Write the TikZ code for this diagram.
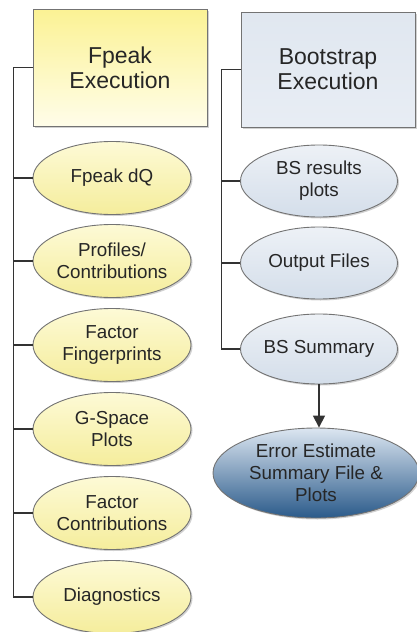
\documentclass[tikz,border=0pt]{standalone}
\usepackage{fontspec}
\setmainfont{Liberation Sans}
\usetikzlibrary{shapes.geometric,shadows,arrows.meta,calc}
\definecolor{linec}{HTML}{333333}
\definecolor{edgec}{HTML}{737373}
\definecolor{ytop}{HTML}{FBF294}
\definecolor{ybot}{HTML}{FFFDE9}
\definecolor{yetop}{HTML}{FDFAD6}
\definecolor{yebot}{HTML}{F5ED9C}
\definecolor{btop}{HTML}{E0E7F0}
\definecolor{bbot}{HTML}{E8EDF4}
\definecolor{betop}{HTML}{EDF1F6}
\definecolor{bebot}{HTML}{D4DEEA}
\definecolor{dtop}{HTML}{DCE6F1}
\definecolor{dmid}{HTML}{87A7CA}
\definecolor{dbot}{HTML}{2A5A8A}
\tikzset{
  shd/.style={drop shadow={shadow xshift=1.5pt,shadow yshift=-1.5pt,fill=black,opacity=0.18}},
  bigbox/.style={rectangle,draw=edgec,line width=0.9pt,shd,align=center,inner sep=0pt,
    font=\fontsize{23}{25}\selectfont,text=black!85},
  ybox/.style={bigbox,top color=ytop,bottom color=ybot},
  bbox/.style={bigbox,top color=btop,bottom color=bbot},
  oval/.style={ellipse,draw=edgec,line width=0.9pt,shd,align=center,inner sep=0pt,
    minimum width=158pt,minimum height=73pt,font=\fontsize{18.8}{22}\selectfont,text=black!85},
  yoval/.style={oval,top color=yetop,bottom color=yebot},
  boval/.style={oval,top color=betop,bottom color=bebot},
  doval/.style={oval,top color=dtop,middle color=dmid,bottom color=dbot,
    minimum width=206pt,minimum height=90pt},
  link/.style={draw=linec,line width=1.5pt},
}
\begin{document}
\begin{tikzpicture}[x=1pt,y=-1pt]
\useasboundingbox (0,0) rectangle (417,632);
% left column
\node[ybox,minimum width=174pt,minimum height=117pt] (fbox) at (120,67.5) {Fpeak\\Execution};
\node[yoval] (dq)   at (112,178) {Fpeak dQ};
\node[yoval] (prof) at (112,261) {Profiles/\\Contributions};
\node[yoval] (fing) at (112,345) {Factor\\Fingerprints};
\node[yoval] (gsp)  at (112,429) {G-Space\\Plots};
\node[yoval] (fcon) at (112,513) {Factor\\Contributions};
\node[yoval] (diag) at (112,597) {Diagnostics};
% right column
\node[bbox,minimum width=174pt,minimum height=115pt] (bbx) at (328,69.5) {Bootstrap\\Execution};
\node[boval,minimum width=157pt,minimum height=72pt] (bsr) at (319,181) {BS results\\plots};
\node[boval,minimum width=157pt,minimum height=72pt] (out) at (319,263) {Output Files};
\node[boval,minimum width=157pt,minimum height=70pt] (bss) at (319,349) {BS Summary};
\node[doval] (err) at (316,473) {Error Estimate\\Summary File \&\\Plots};
% left trunk
\coordinate (lt) at ($(fbox.west)+(-19,0)$);
\draw[link] (fbox.west) -- (lt) |- (diag.west);
\foreach \n in {dq,prof,fing,gsp,fcon}
  \draw[link] (lt |- \n.west) -- (\n.west);
% right trunk
\coordinate (rt) at ($(bbx.west)+(-19,0)$);
\draw[link] (bbx.west) -- (rt) |- (bss.west);
\foreach \n in {bsr,out}
  \draw[link] (rt |- \n.west) -- (\n.west);
% arrow
\draw[link,-{Triangle[length=12pt,width=12pt]}] (bss.south) -- (bss.south |- err.north);
\end{tikzpicture}
\end{document}
